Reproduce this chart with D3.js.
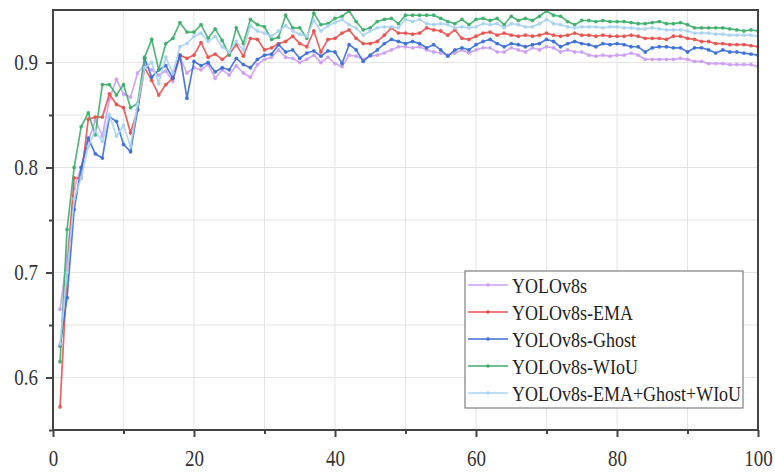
<!DOCTYPE html>
<html><head><meta charset="utf-8">
<script src="https://cdn.jsdelivr.net/npm/d3@7"></script>
<style>body{margin:0;background:#fff}svg{display:block}</style>
</head><body>
<svg id="chart" width="775" height="473"></svg>
<script>
const seriesNames = ["YOLOv8s","YOLOv8s-EMA","YOLOv8s-Ghost","YOLOv8s-WIoU","YOLOv8s-EMA+Ghost+WIoU"];
const xTicks = [0,20,40,60,80,100];
const xMinor = [10,30,50,70,90];
const yTicks = [0.6,0.7,0.8,0.9];
const yMinor = [0.55,0.65,0.75,0.85];

const yolov8s = [0.665,0.715,0.78,0.80,0.825,0.845,0.83,0.865,0.884,0.87,0.867,0.89,0.898,0.893,0.888,0.892,0.882,0.905,0.89,0.895,
0.893,0.898,0.885,0.893,0.888,0.897,0.89,0.886,0.898,0.903,0.905,0.912,0.905,0.904,0.9,0.903,0.907,0.9,0.905,0.899,
0.896,0.907,0.906,0.903,0.906,0.907,0.909,0.912,0.915,0.915,0.914,0.915,0.912,0.910,0.909,0.907,0.909,0.912,0.909,0.912,
0.914,0.914,0.910,0.910,0.914,0.912,0.910,0.914,0.912,0.915,0.914,0.910,0.912,0.910,0.910,0.907,0.906,0.907,0.906,0.907,
0.907,0.909,0.907,0.903,0.903,0.903,0.903,0.903,0.904,0.903,0.901,0.901,0.899,0.899,0.899,0.898,0.898,0.898,0.898,0.896];
const yolov8sEMA = [0.572,0.70,0.79,0.79,0.846,0.848,0.848,0.870,0.860,0.857,0.833,0.855,0.895,0.883,0.869,0.879,0.885,0.907,0.904,0.907,
0.919,0.905,0.908,0.903,0.908,0.917,0.906,0.923,0.922,0.912,0.914,0.918,0.92,0.925,0.918,0.915,0.93,0.91,0.922,0.923,
0.928,0.931,0.923,0.918,0.918,0.920,0.926,0.933,0.928,0.928,0.927,0.928,0.933,0.931,0.930,0.926,0.931,0.923,0.922,0.925,
0.928,0.929,0.926,0.928,0.926,0.925,0.926,0.925,0.926,0.928,0.926,0.925,0.926,0.928,0.926,0.926,0.925,0.926,0.925,0.925,
0.925,0.926,0.925,0.923,0.923,0.923,0.922,0.925,0.925,0.923,0.922,0.920,0.920,0.918,0.918,0.917,0.917,0.917,0.916,0.915];
const yolov8sGhost = [0.63,0.676,0.76,0.80,0.828,0.813,0.809,0.848,0.844,0.822,0.815,0.855,0.904,0.886,0.893,0.897,0.885,0.907,0.866,0.901,
0.897,0.900,0.891,0.895,0.893,0.904,0.898,0.895,0.903,0.907,0.908,0.917,0.91,0.912,0.904,0.909,0.911,0.906,0.911,0.91,
0.899,0.917,0.912,0.901,0.907,0.912,0.918,0.922,0.920,0.918,0.920,0.918,0.914,0.917,0.912,0.906,0.912,0.914,0.912,0.917,
0.920,0.922,0.918,0.915,0.918,0.917,0.915,0.917,0.918,0.922,0.920,0.915,0.918,0.920,0.918,0.917,0.915,0.918,0.917,0.918,
0.917,0.915,0.915,0.910,0.914,0.915,0.915,0.914,0.914,0.910,0.914,0.914,0.912,0.909,0.912,0.910,0.910,0.909,0.908,0.907];
const yolov8sWIoU = [0.615,0.741,0.80,0.839,0.852,0.831,0.879,0.879,0.869,0.879,0.857,0.861,0.905,0.922,0.893,0.918,0.923,0.938,0.929,0.929,
0.936,0.923,0.932,0.921,0.907,0.933,0.918,0.941,0.936,0.934,0.922,0.924,0.945,0.933,0.933,0.923,0.947,0.936,0.937,0.942,
0.944,0.949,0.939,0.931,0.933,0.939,0.941,0.942,0.937,0.945,0.945,0.945,0.945,0.945,0.942,0.939,0.937,0.941,0.936,0.941,
0.942,0.940,0.942,0.936,0.944,0.940,0.942,0.940,0.944,0.949,0.945,0.944,0.939,0.936,0.940,0.940,0.939,0.940,0.939,0.939,
0.939,0.938,0.937,0.937,0.938,0.939,0.937,0.937,0.938,0.936,0.933,0.933,0.933,0.933,0.933,0.932,0.931,0.930,0.931,0.930];
const yolov8sAll = [0.632,0.70,0.77,0.79,0.82,0.835,0.825,0.85,0.83,0.84,0.82,0.86,0.895,0.90,0.88,0.905,0.89,0.915,0.918,0.925,
0.928,0.92,0.925,0.915,0.91,0.92,0.912,0.935,0.93,0.928,0.925,0.93,0.935,0.93,0.927,0.925,0.94,0.93,0.935,0.938,
0.941,0.936,0.933,0.926,0.930,0.933,0.934,0.934,0.933,0.941,0.939,0.941,0.937,0.936,0.937,0.936,0.933,0.934,0.933,0.934,
0.937,0.936,0.937,0.933,0.937,0.936,0.934,0.934,0.937,0.941,0.937,0.936,0.934,0.933,0.934,0.934,0.934,0.933,0.934,0.934,
0.933,0.933,0.932,0.932,0.933,0.932,0.931,0.931,0.931,0.930,0.928,0.928,0.928,0.927,0.927,0.926,0.926,0.926,0.926,0.925];

const allSeries = [yolov8s, yolov8sEMA, yolov8sGhost, yolov8sWIoU, yolov8sAll];
const colors = ["#cc9ff2","#e8524f","#3b6fd6","#3daf6a","#a8d3f2"];

const svg = d3.select("#chart");
const L = 53, R = 758, T = 10, B = 430;
const x = d3.scaleLinear().domain([0,100]).range([L,R]);
const y = d3.scaleLinear().domain([0.55,0.95]).range([B,T]);
const font = "'Liberation Serif','Times New Roman',serif";
const SY = 1.22; // vertical stretch of glyphs seen in the reference

// grid
const grid = svg.append("g");
grid.selectAll("line.gx").data(xTicks.concat(xMinor)).join("line")
  .attr("x1", d=>x(d)).attr("x2", d=>x(d)).attr("y1", T).attr("y2", B)
  .attr("stroke", "#e4e4e4").attr("stroke-width", 1);
grid.selectAll("line.gy").data(yTicks.concat(yMinor)).join("line")
  .attr("y1", d=>y(d)).attr("y2", d=>y(d)).attr("x1", L).attr("x2", R)
  .attr("stroke", "#e4e4e4").attr("stroke-width", 1);

svg.append("clipPath").attr("id","clip").append("rect")
  .attr("x", L).attr("y", T-2).attr("width", R-L).attr("height", B-T+2);

const line = d3.line().x((d,i)=>x(i+1)).y(d=>y(d));
const plot = svg.append("g").attr("clip-path","url(#clip)");
allSeries.forEach((s, k) => {
  const g = plot.append("g");
  g.append("path").datum(s).attr("d", line).attr("fill","none")
    .attr("stroke", colors[k]).attr("stroke-width", 1.7).attr("stroke-opacity", 0.9);
  g.selectAll("circle").data(s).join("circle")
    .attr("cx", (d,i)=>x(i+1)).attr("cy", d=>y(d)).attr("r", 1.9)
    .attr("fill", colors[k]).attr("fill-opacity", 0.9);
});

// frame
svg.append("rect").attr("x", L).attr("y", T).attr("width", R-L).attr("height", B-T)
  .attr("fill","none").attr("stroke","#444").attr("stroke-width", 2);

// axes
svg.append("g").attr("class","xax").attr("transform", `translate(0,${B})`)
  .call(d3.axisBottom(x).tickValues(xTicks).tickSize(7).tickPadding(9).tickFormat(d3.format("d")));
svg.append("g").attr("transform", `translate(0,${B})`)
  .call(d3.axisBottom(x).tickValues(xMinor).tickSize(4).tickFormat(""));
svg.append("g").attr("class","yax").attr("transform", `translate(${L},0)`)
  .call(d3.axisLeft(y).tickValues(yTicks).tickSize(7).tickPadding(8).tickFormat(d3.format(".1f")));
svg.append("g").attr("transform", `translate(${L},0)`)
  .call(d3.axisLeft(y).tickValues(yMinor).tickSize(4).tickFormat(""));
svg.selectAll(".domain").remove();
svg.selectAll(".tick line").attr("stroke","#444").attr("stroke-width",2);
svg.selectAll(".tick text").attr("font-family", font).attr("font-size", 19).attr("fill","#333");
svg.selectAll(".xax .tick text").attr("y", 16).attr("transform", `scale(1,${SY})`);
svg.selectAll(".yax .tick text").attr("transform", `scale(1,${SY})`);

// legend
const lg = svg.append("g");
lg.append("rect").attr("x", 465).attr("y", 271).attr("width", 278).attr("height", 137)
  .attr("fill","#fff").attr("stroke","#666").attr("stroke-width",1);
seriesNames.forEach((n, k) => {
  const cy = 285 + k*27;
  lg.append("line").attr("x1", 468).attr("x2", 508).attr("y1", cy).attr("y2", cy)
    .attr("stroke", colors[k]).attr("stroke-width", 1.6);
  lg.append("circle").attr("cx", 488).attr("cy", cy).attr("r", 1.8).attr("fill", colors[k]);
  lg.append("text").attr("transform", `translate(512,${cy}) scale(1,${SY})`).attr("dy","0.35em")
    .attr("font-family", font).attr("font-size", 18).attr("fill","#222").text(n);
});
</script>
</body></html>
